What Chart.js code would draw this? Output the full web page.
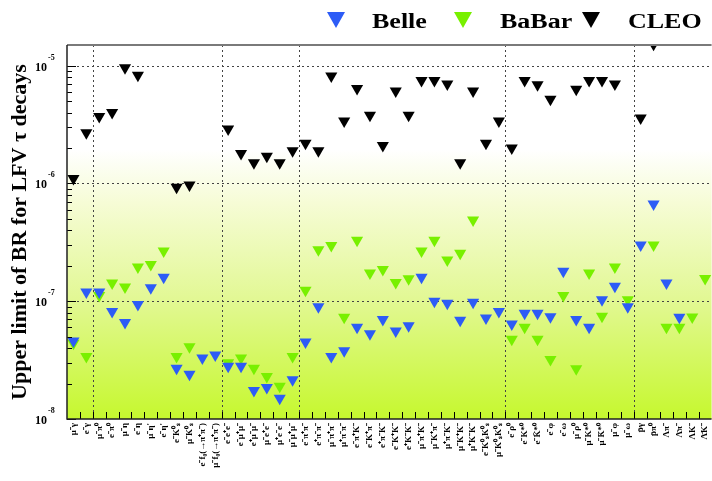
<!DOCTYPE html>
<html>
<head>
<meta charset="utf-8">
<script src="https://cdn.jsdelivr.net/npm/chart.js@4.4.1/dist/chart.umd.min.js"></script>
<style>
  html, body { margin: 0; padding: 0; background: #fff; overflow: hidden; }
  #wrap { width: 720px; height: 481px; }
</style>
</head>
<body>
<div id="wrap"><canvas id="lfvChart" width="720" height="481"></canvas></div>
<script>
// decay modes, left to right
const decayModes = [
  'μ⁻γ', 'e⁻γ',
  'μ⁻π⁰', 'e⁻π⁰', 'μ⁻η', 'e⁻η', "μ⁻η'", "e⁻η'", 'e⁻K⁰ₛ', 'μ⁻K⁰ₛ', 'e⁻f₀(→π⁺π⁻)', 'μ⁻f₀(→π⁺π⁻)',
  'e⁻e⁺e⁻', 'e⁻μ⁺μ⁻', 'e⁺μ⁻μ⁻', 'μ⁻e⁺e⁻', 'μ⁺e⁻e⁻', 'μ⁻μ⁺μ⁻',
  'e⁻π⁺π⁻', 'e⁺π⁻π⁻', 'μ⁻π⁺π⁻', 'μ⁺π⁻π⁻', 'e⁻π⁺K⁻', 'e⁻K⁺π⁻', 'e⁺π⁻K⁻', 'e⁻K⁺K⁻',
  'e⁺K⁻K⁻', 'μ⁻π⁺K⁻', 'μ⁻K⁺π⁻', 'μ⁺π⁻K⁻', 'μ⁻K⁺K⁻', 'μ⁺K⁻K⁻', 'e⁻K⁰ₛK⁰ₛ', 'μ⁻K⁰ₛK⁰ₛ',
  'e⁻ρ⁰', 'e⁻K*⁰', 'e⁻K̄*⁰', 'e⁻φ', 'e⁻ω', 'μ⁻ρ⁰', 'μ⁻K*⁰', 'μ⁻K̄*⁰', 'μ⁻φ', 'μ⁻ω',
  'p̄γ', 'p̄π⁰', 'Λπ⁻', 'Λ̄π⁻', 'ΛK⁻', 'Λ̄K⁻'
];

const belleLimits = [
  4.6e-8, 1.2e-7,
  1.2e-7, 8.2e-8, 6.6e-8, 9.4e-8, 1.3e-7, 1.6e-7, 2.7e-8, 2.4e-8, 3.3e-8, 3.5e-8,
  2.8e-8, 2.8e-8, 1.75e-8, 1.85e-8, 1.5e-8, 2.15e-8,
  4.5e-8, 9.0e-8, 3.4e-8, 3.8e-8, 6.0e-8, 5.3e-8, 7.0e-8, 5.6e-8,
  6.2e-8, 1.6e-7, 1.0e-7, 9.6e-8, 6.9e-8, 9.8e-8, 7.2e-8, 8.2e-8,
  6.4e-8, 7.9e-8, 7.9e-8, 7.4e-8, 1.8e-7, 7.0e-8, 6.0e-8, 1.03e-7, 1.34e-7, 9.0e-8,
  3.0e-7, 6.7e-7, 1.43e-7, 7.3e-8, null, null
];

const babarLimits = [
  4.4e-8, 3.4e-8,
  1.12e-7, 1.43e-7, 1.32e-7, 1.95e-7, 2.05e-7, 2.67e-7, 3.4e-8, 4.1e-8, null, null,
  3.0e-8, 3.3e-8, 2.7e-8, 2.3e-8, 1.9e-8, 3.4e-8,
  1.24e-7, 2.74e-7, 2.98e-7, 7.3e-8, 3.3e-7, 1.74e-7, 1.86e-7, 1.44e-7,
  1.55e-7, 2.67e-7, 3.3e-7, 2.24e-7, 2.55e-7, 4.9e-7, null, null,
  4.75e-8, 6.0e-8, 4.75e-8, 3.2e-8, 1.12e-7, 2.67e-8, 1.74e-7, 7.45e-8, 1.95e-7, 1.03e-7,
  null, 3.0e-7, 6.0e-8, 6.0e-8, 7.35e-8, 1.56e-7
];

const cleoLimits = [
  1.1e-6, 2.7e-6,
  3.7e-6, 4.0e-6, 9.6e-6, 8.3e-6, null, null, 9.3e-7, 9.7e-7, null, null,
  2.9e-6, 1.8e-6, 1.5e-6, 1.7e-6, 1.5e-6, 1.9e-6,
  2.2e-6, 1.9e-6, 8.2e-6, 3.4e-6, 6.4e-6, 3.8e-6, 2.1e-6, 6.1e-6,
  3.8e-6, 7.5e-6, 7.5e-6, 7.0e-6, 1.5e-6, 6.1e-6, 2.2e-6, 3.4e-6,
  2.0e-6, 7.5e-6, 6.9e-6, 5.2e-6, null, 6.3e-6, 7.5e-6, 7.5e-6, 7.0e-6, null,
  3.6e-6, 1.52e-5, null, null, null, null
];

// first mode of each new group (dotted separators)
const groupStarts = [2, 12, 18, 34, 44];
const decades = [-8, -7, -6, -5];
const yMin = 1e-8;
const yMax = 1.5e-5;

const BLUE = '#2d5cf6';
const GREEN = '#78f000';
const BLACK = '#000000';

function drawDownTriangle(ctx, cx, top, w, h, color) {
  ctx.beginPath();
  ctx.moveTo(cx - w / 2, top);
  ctx.lineTo(cx + w / 2, top);
  ctx.lineTo(cx, top + h);
  ctx.closePath();
  ctx.fillStyle = color;
  ctx.fill();
}

const frameDecor = {
  id: 'frameDecor',
  beforeDatasetsDraw(chart) {
    const { ctx, chartArea: a, scales: { x, y } } = chart;
    ctx.save();
    // white to lime fill
    const g = ctx.createLinearGradient(0, a.top, 0, a.bottom);
    g.addColorStop(0, '#ffffff');
    g.addColorStop(0.28, '#ffffff');
    g.addColorStop(0.42, '#f6fcd6');
    g.addColorStop(0.68, '#e2f894');
    g.addColorStop(1, '#c6f82e');
    ctx.fillStyle = g;
    ctx.fillRect(a.left, a.top, a.right - a.left, a.bottom - a.top);

    // dotted grid
    ctx.setLineDash([2, 3]);
    ctx.strokeStyle = '#444';
    ctx.lineWidth = 1;
    decades.forEach(d => {
      const v = Math.pow(10, d);
      if (v <= yMin || v >= yMax) return;
      const py = Math.round(y.getPixelForValue(v)) + 0.5;
      ctx.beginPath();
      ctx.moveTo(a.left, py);
      ctx.lineTo(a.right, py);
      ctx.stroke();
    });
    const step = x.getPixelForValue(1) - x.getPixelForValue(0);
    groupStarts.forEach(k => {
      const px = Math.round(x.getPixelForValue(k) - step / 2) + 0.5;
      ctx.beginPath();
      ctx.moveTo(px, a.top);
      ctx.lineTo(px, a.bottom);
      ctx.stroke();
    });
    ctx.restore();
  },
  afterDraw(chart) {
    const { ctx, chartArea: a, scales: { x, y } } = chart;
    ctx.save();
    ctx.strokeStyle = '#000';
    ctx.lineWidth = 1;

    // x ticks at mode boundaries, pointing inwards
    const step = x.getPixelForValue(1) - x.getPixelForValue(0);
    ctx.beginPath();
    for (let k = 1; k < decayModes.length; k++) {
      const px = Math.round(x.getPixelForValue(k) - step / 2) + 0.5;
      ctx.moveTo(px, a.bottom);
      ctx.lineTo(px, a.bottom - 7);
    }
    // y ticks, major + minor
    decades.forEach(d => {
      for (let m = 1; m <= 9; m++) {
        const v = m * Math.pow(10, d);
        if (v < yMin || v > yMax) continue;
        const py = Math.round(y.getPixelForValue(v)) + 0.5;
        ctx.moveTo(a.left, py);
        ctx.lineTo(a.left + (m === 1 ? 9 : 5), py);
      }
    });
    ctx.stroke();

    // frame
    ctx.strokeStyle = '#7a7a7a';
    ctx.lineWidth = 2;
    ctx.beginPath();
    ctx.moveTo(a.left, a.top);
    ctx.lineTo(a.right, a.top);
    ctx.stroke();
    ctx.strokeStyle = '#222';
    ctx.lineWidth = 1.5;
    ctx.beginPath();
    ctx.moveTo(a.left, a.top);
    ctx.lineTo(a.left, a.bottom);
    ctx.lineTo(a.right, a.bottom);
    ctx.stroke();

    // y labels 10^n
    ctx.fillStyle = '#000';
    ctx.textBaseline = 'alphabetic';
    ctx.textAlign = 'left';
    decades.forEach(d => {
      const v = Math.pow(10, d);
      if (v > yMax) return;
      const py = y.getPixelForValue(v);
      ctx.font = 'bold 12px "Liberation Serif"';
      ctx.fillText('10', 35, py + 5);
      const w = ctx.measureText('10').width;
      ctx.font = 'bold 8px "Liberation Serif"';
      ctx.fillText(String(d), 35 + w + 1, py - 6);
    });

    // legend
    const items = [
      { label: 'Belle', color: BLUE, mark: 336, text: 372 },
      { label: 'BaBar', color: GREEN, mark: 463, text: 500 },
      { label: 'CLEO', color: BLACK, mark: 591, text: 628 }
    ];
    items.forEach(it => {
      drawDownTriangle(ctx, it.mark, 12, 18, 16, it.color);
      ctx.save();
      ctx.translate(it.text, 28);
      ctx.scale(1.3, 1);
      ctx.font = 'bold 20px "Liberation Serif"';
      ctx.fillStyle = '#000';
      ctx.fillText(it.label, 0, 0);
      ctx.restore();
    });
    ctx.restore();
  }
};

function markerSet(label, data, color) {
  return {
    label: label,
    data: data,
    showLine: false,
    pointStyle: 'triangle',
    pointRotation: 180,
    pointRadius: 7,
    pointHoverRadius: 7,
    pointBackgroundColor: color,
    pointBorderWidth: 0,
    borderColor: color,
    backgroundColor: color,
    clip: 0
  };
}

new Chart(document.getElementById('lfvChart'), {
  type: 'line',
  data: {
    labels: decayModes,
    datasets: [
      markerSet('Belle', belleLimits, BLUE),
      markerSet('BaBar', babarLimits, GREEN),
      markerSet('CLEO', cleoLimits, BLACK)
    ]
  },
  options: {
    responsive: false,
    animation: false,
    devicePixelRatio: 1,
    events: [],
    layout: { padding: { top: 45, left: 0, right: 0, bottom: 0 } },
    scales: {
      x: {
        type: 'category',
        offset: true,
        grid: { display: false, drawTicks: false },
        border: { display: false },
        ticks: {
          autoSkip: false,
          minRotation: 90,
          maxRotation: 90,
          padding: 4,
          color: '#000',
          font: { family: 'Liberation Serif', size: 9, weight: 'bold' }
        },
        afterFit: scale => { scale.height = 62; }
      },
      y: {
        type: 'logarithmic',
        min: yMin,
        max: yMax,
        grid: { display: false, drawTicks: false },
        border: { display: false },
        ticks: { display: false },
        title: {
          display: true,
          text: 'Upper limit of BR for LFV τ decays',
          color: '#000',
          padding: { top: 7, bottom: 0 },
          font: { family: 'Liberation Serif', size: 22, weight: 'bold' }
        },
        afterFit: scale => { scale.width = 67; }
      }
    },
    plugins: {
      legend: { display: false },
      tooltip: { enabled: false }
    }
  },
  plugins: [frameDecor]
});
</script>
</body>
</html>
